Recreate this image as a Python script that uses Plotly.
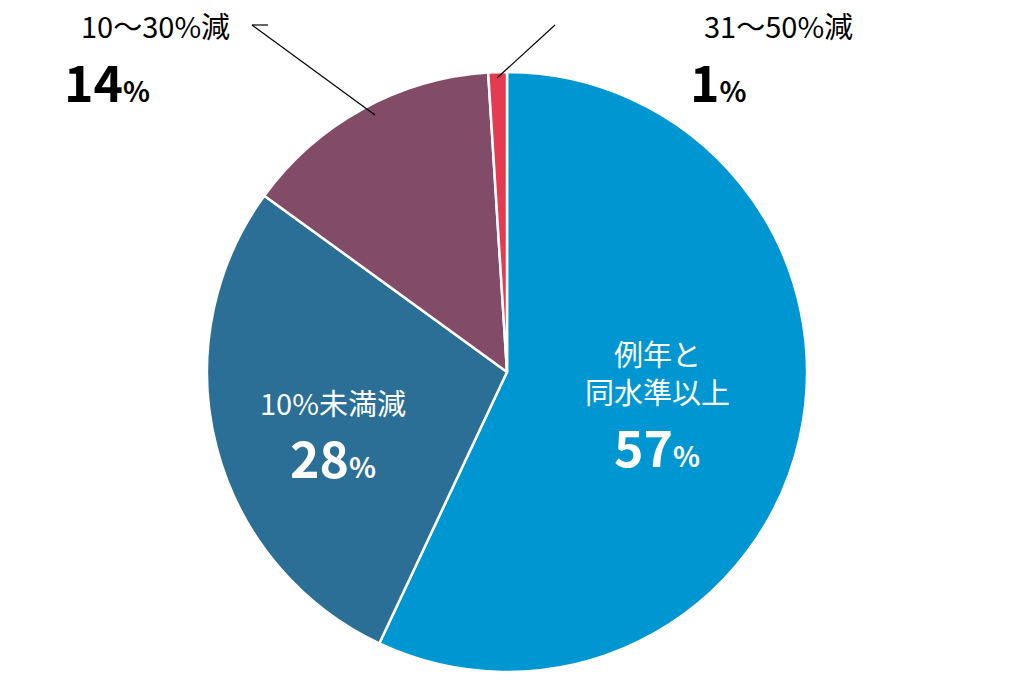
import plotly.graph_objects as go

labels = ['例年と同水準以上', '10%未満減', '10〜30%減', '31〜50%減']
values = [57, 28, 14, 1]
colors = ['#0096D1', '#2B6E96', '#824B67', '#E43B51']

W, H = 1018, 686
def px(x, y):
    return (x - 8) / W, 1 - (y - 8) / H

fig = go.Figure(go.Pie(
    labels=labels, values=values, sort=False, direction='clockwise', rotation=0,
    marker=dict(colors=colors, line=dict(color='white', width=2.5)),
    textinfo='none', hoverinfo='label+percent', showlegend=False,
    domain=dict(x=[199 / W, 799 / W], y=[1 - 664 / H, 1 - 64 / H]),
))

font = 'Noto Sans CJK JP'

def pct(v, size, small):
    return f"<b><span style='font-size:{size}px'>{v}</span><span style='font-size:{small}px'>%</span></b>"

notes = [
    (657, 372, '例年と<br>同水準以上', 29, 'white'),
    (657, 445, pct(57, 50, 28), None, 'white'),
    (333, 402, '10%未満減', 29, 'white'),
    (333, 456, pct(28, 50, 28), None, 'white'),
    (155, 25, '10〜30%減', 29, 'black'),
    (107, 80, pct(14, 50, 28), None, 'black'),
    (778, 25, '31〜50%減', 29, 'black'),
    (718, 80, pct(1, 50, 28), None, 'black'),
]
for x, y, t, s, c in notes:
    xx, yy = px(x, y)
    fig.add_annotation(x=xx, y=yy, xref='paper', yref='paper', text=t, showarrow=False,
                       xanchor='center', yanchor='middle',
                       font=dict(family=font, size=s or 28, color=c), align='center')

for (x0, y0), (x1, y1) in [((252, 25), (375, 115)), ((555, 25), (497, 78)), ((252, 25), (268, 25))]:
    a, b = px(x0, y0)
    c, d = px(x1, y1)
    fig.add_shape(type='line', xref='paper', yref='paper', x0=a, y0=b, x1=c, y1=d,
                  line=dict(color='black', width=1.2))

fig.update_layout(width=W, height=H, margin=dict(l=0, r=0, t=0, b=0),
                  paper_bgcolor='white', plot_bgcolor='white')
fig.write_html("out.html")
